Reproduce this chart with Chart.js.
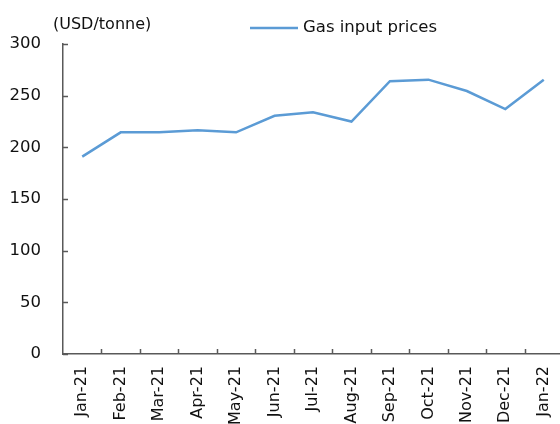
<!DOCTYPE html>
<html>
<head>
<meta charset="utf-8">
<script src="https://cdn.jsdelivr.net/npm/chart.js@4/dist/chart.umd.min.js"></script>
<style>
  html, body { margin: 0; padding: 0; background: #fff; overflow: hidden; }
  #wrap { width: 563px; height: 424px; position: relative; }
</style>
</head>
<body>
<div id="wrap"><canvas id="myChart"></canvas></div>
<script>
const months = ['Jan-21', 'Feb-21', 'Mar-21', 'Apr-21', 'May-21', 'Jun-21', 'Jul-21',
                'Aug-21', 'Sep-21', 'Oct-21', 'Nov-21', 'Dec-21', 'Jan-22'];
const gasPrices = [191, 214.5, 214.5, 216.5, 214.5, 230.5, 234, 225, 264, 265.5, 254.5, 237, 265.5];
const yTicks = [0, 50, 100, 150, 200, 250, 300];
const unitLabel = '(USD/tonne)';
const seriesName = 'Gas input prices';

const axisColor = '#595959';
const lineColor = '#5B9BD5';
const fontFamily = '"DejaVu Sans", Verdana, sans-serif';

// inward tick marks, legend and unit label
const extras = {
    id: 'extras',
    afterDraw(chart) {
        const ctx = chart.ctx;
        const x = chart.scales.x;
        const y = chart.scales.y;
        const area = chart.chartArea;
        ctx.save();
        ctx.strokeStyle = axisColor;
        ctx.lineWidth = 1.5;
        ctx.beginPath();
        y.ticks.forEach((t, i) => {
            const py = Math.round(y.getPixelForTick(i)) + 0.5;
            ctx.moveTo(area.left, py);
            ctx.lineTo(area.left + 5, py);
        });
        const half = (x.getPixelForTick(1) - x.getPixelForTick(0)) / 2;
        for (let i = 0; i < x.ticks.length; i++) {
            const px = Math.round(x.getPixelForTick(i) + half) + 0.5;
            ctx.moveTo(px, area.bottom);
            ctx.lineTo(px, area.bottom - 5);
        }
        ctx.stroke();

        // legend
        const ds = chart.data.datasets[0];
        ctx.strokeStyle = ds.borderColor;
        ctx.lineWidth = 2.5;
        ctx.beginPath();
        ctx.moveTo(250, 28);
        ctx.lineTo(298, 28);
        ctx.stroke();
        ctx.fillStyle = '#111';
        ctx.font = '16.5px ' + fontFamily;
        ctx.textBaseline = 'middle';
        ctx.textAlign = 'left';
        ctx.fillText(ds.label, 303, 28);

        // unit label
        ctx.font = '16px ' + fontFamily;
        ctx.fillText(unitLabel, 53, 25);
        ctx.restore();
    }
};

function myLoadFunction() {
    const ctx = document.getElementById('myChart').getContext('2d');
    var myChartConfig = {
        type: 'line',
        data: {
            labels: months,
            datasets: [
            {
                label: seriesName,
                data: gasPrices,
                borderColor: lineColor,
                backgroundColor: lineColor,
                borderWidth: 2.5,
                pointRadius: 0,
                tension: 0,
                fill: false
            }
        ]
        },
        options: {
            responsive: true,
            maintainAspectRatio: false,
            animation: false,
            layout: { padding: { top: 44, left: 0, right: 0, bottom: 0 } },
            plugins: {
                legend: { display: false },
                tooltip: { enabled: false }
            },
            scales: {
                x: {
                    offset: true,
                    grid: { display: true, offset: true, drawOnChartArea: false, drawTicks: false },
                    border: { display: true, color: axisColor, width: 1.5 },
                    ticks: {
                        color: '#111',
                        font: { family: fontFamily, size: 16 },
                        minRotation: 90,
                        maxRotation: 90,
                        padding: 12,
                        autoSkip: false
                    },
                    afterFit(scale) {
                        scale.height = 70;
                        scale.paddingLeft = 0;
                        scale.paddingRight = 0;
                    }
                },
                y: {
                    min: 0,
                    max: 300,
                    afterBuildTicks(scale) {
                        scale.ticks = yTicks.map(v => ({ value: v }));
                    },
                    grid: { display: true, drawOnChartArea: false, drawTicks: false },
                    border: { display: true, color: axisColor, width: 1.5 },
                    ticks: {
                        color: '#111',
                        font: { family: fontFamily, size: 16.5 },
                        padding: 22
                    },
                    afterFit(scale) {
                        scale.width = 63;
                        scale.paddingTop = 0;
                        scale.paddingBottom = 0;
                    }
                }
            }
        },
        plugins: [extras]
    };
    const myChart = new Chart(ctx, myChartConfig);
}

document.addEventListener('DOMContentLoaded', myLoadFunction);
</script>
</body>
</html>
